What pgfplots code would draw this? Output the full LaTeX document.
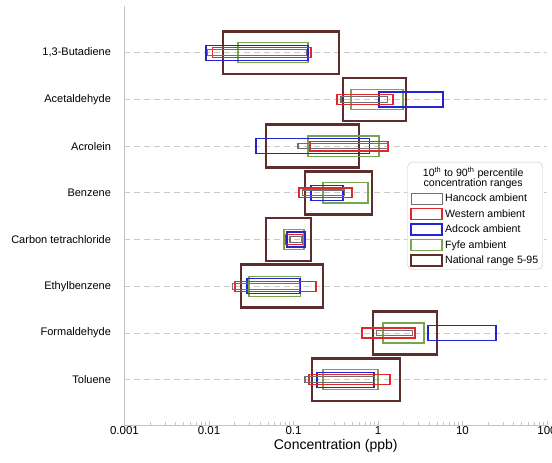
\documentclass[border=0pt]{standalone}
\usepackage{fontspec}
\setmainfont{Liberation Sans}
\usepackage{pgfplots}
\usepackage{pgfplotstable}
\pgfplotsset{compat=1.18}
\definecolor{natc}{HTML}{5E2E2E}
\definecolor{hanc}{HTML}{707070}
\definecolor{wesc}{HTML}{E0282C}
\definecolor{adcc}{HTML}{2424D0}
\definecolor{fyfc}{HTML}{78A64E}
\definecolor{gridc}{HTML}{C8C8C8}
\definecolor{axc}{HTML}{C4C4C4}

% y: 8 = 1,3-Butadiene ... 1 = Toluene
\pgfplotstableread{
y lo hi
8 0.0147 0.345
7 0.386 2.14
6 0.0473 0.596
5 0.137 0.85
4 0.0473 0.161
3 0.0239 0.223
2 0.873 4.99
1 0.166 1.82
}\natl
\pgfplotstableread{
y lo hi
8 0.0097 0.141
7 0.365 1.31
6 0.113 1.28
5 0.129 0.406
4 0.091 0.126
3 0.0192 0.119
2 0.97 2.59
1 0.137 0.9
}\hancock
\pgfplotstableread{
y lo hi
8 0.0111 0.161
7 0.327 1.51
6 0.157 1.31
5 0.116 0.492
4 0.081 0.129
3 0.0203 0.185
2 0.647 2.74
1 0.152 1.39
}\western
\pgfplotstableread{
y lo hi
8 0.0092 0.149
7 1.03 5.88
6 0.036 0.80
5 0.161 0.386
4 0.0838 0.137
3 0.0282 0.119
2 3.91 24.9
1 0.190 0.90
}\adcock
\pgfplotstableread{
y lo hi
8 0.022 0.149
7 0.478 1.98
6 0.149 1.03
5 0.223 0.762
4 0.0773 0.133
3 0.0297 0.122
2 1.15 3.50
1 0.223 1.0
}\fyfe

\pgfplotsset{
  natbox/.style={draw=natc, line width=2.6pt, line join=miter},
  hanbox/.style={draw=hanc, line width=1.1pt, line join=miter},
  wesbox/.style={draw=wesc, line width=1.3pt, line join=miter},
  adcbox/.style={draw=adcc, line width=1.3pt, line join=miter},
  fyfbox/.style={draw=fyfc, line width=1.3pt, line join=miter},
  boxlegend/.style={legend image code/.code={\draw[sharp corners, line join=miter, ##1] (0pt,-5.5pt) rectangle (31pt,5.5pt);}},
}

\newcommand{\drawboxes}[3]{%
  \pgfplotsforeachungrouped \r in {0,...,7}{%
    \pgfplotstablegetelem{\r}{y}\of{#1}\let\yc\pgfplotsretval
    \pgfplotstablegetelem{\r}{lo}\of{#1}\let\xa\pgfplotsretval
    \pgfplotstablegetelem{\r}{hi}\of{#1}\let\xb\pgfplotsretval
    \pgfmathsetmacro\ya{\yc-#2}%
    \pgfmathsetmacro\yb{\yc+#2}%
    \edef\tmp{\noexpand\addplot[#3,forget plot] coordinates {(\xa,\ya) (\xb,\ya) (\xb,\yb) (\xa,\yb)} -- cycle;}%
    \tmp
  }%
}

\begin{document}
\begin{tikzpicture}
\begin{axis}[
  scale only axis, width=422.5pt, height=419pt,
  xmode=log, xmin=0.001, xmax=100,
  ymin=0.03, ymax=9,
  xtick={0.001,0.01,0.1,1,10,100},
  xticklabels={0.001,0.01,0.1,1,10,100},
  minor xtick={0.002,0.003,0.004,0.005,0.006,0.007,0.008,0.009,
               0.02,0.03,0.04,0.05,0.06,0.07,0.08,0.09,
               0.2,0.3,0.4,0.5,0.6,0.7,0.8,0.9,
               2,3,4,5,6,7,8,9,20,30,40,50,60,70,80,90},
  ytick={1,...,8},
  yticklabels={Toluene,Formaldehyde,Ethylbenzene,Carbon tetrachloride,Benzene,Acrolein,Acetaldehyde,{1,3-Butadiene}},
  axis x line*=bottom, axis y line*=left,
  axis line style={-, draw=axc, line width=0.8pt},
  x tick style={draw=axc, line width=0.6pt},
  major tick length=4pt, minor tick length=2.5pt,
  y tick style={draw=none},
  ymajorgrids,
  grid style={draw=gridc, line width=0.7pt, dash pattern=on 6pt off 4pt},
  yticklabel style={font=\fontsize{11}{13}\selectfont, xshift=-10pt},
  xticklabel style={font=\fontsize{11.5}{13}\selectfont, yshift=2pt},
  xlabel={Concentration (ppb)},
  xlabel style={font=\fontsize{14}{16}\selectfont, yshift=2pt},
  legend style={at={(0.9905,0.6277)}, anchor=north east, draw=gridc,
    rounded corners=5pt, font=\fontsize{10.6}{12}\selectfont,
    row sep=2.2pt, inner sep=2.5pt, cells={anchor=west}},
  legend cell align=left,
  clip=false,
]
\drawboxes{\natl}{0.46}{natbox}
\drawboxes{\fyfe}{0.215}{fyfbox}
\drawboxes{\adcock}{0.16}{adcbox}
\drawboxes{\western}{0.105}{wesbox}
\drawboxes{\hancock}{0.06}{hanbox}

\addlegendimage{empty legend}
\addlegendentry{\hspace*{-24pt}\parbox[b]{104pt}{\centering 10\textsuperscript{th} to 90\textsuperscript{th} percentile\par\vspace*{-1.5pt} concentration ranges}}
\addlegendimage{boxlegend, draw=hanc, line width=1.1pt}
\addlegendentry{Hancock ambient}
\addlegendimage{boxlegend, draw=wesc, line width=1.3pt}
\addlegendentry{Western ambient}
\addlegendimage{boxlegend, draw=adcc, line width=1.3pt}
\addlegendentry{Adcock ambient}
\addlegendimage{boxlegend, draw=fyfc, line width=1.3pt}
\addlegendentry{Fyfe ambient}
\addlegendimage{boxlegend, draw=natc, line width=2.2pt}
\addlegendentry{National range 5-95}
\end{axis}
\pgfresetboundingbox
\path (-124.5pt,-38pt) rectangle (427.5pt,425pt);
\end{tikzpicture}
\end{document}
